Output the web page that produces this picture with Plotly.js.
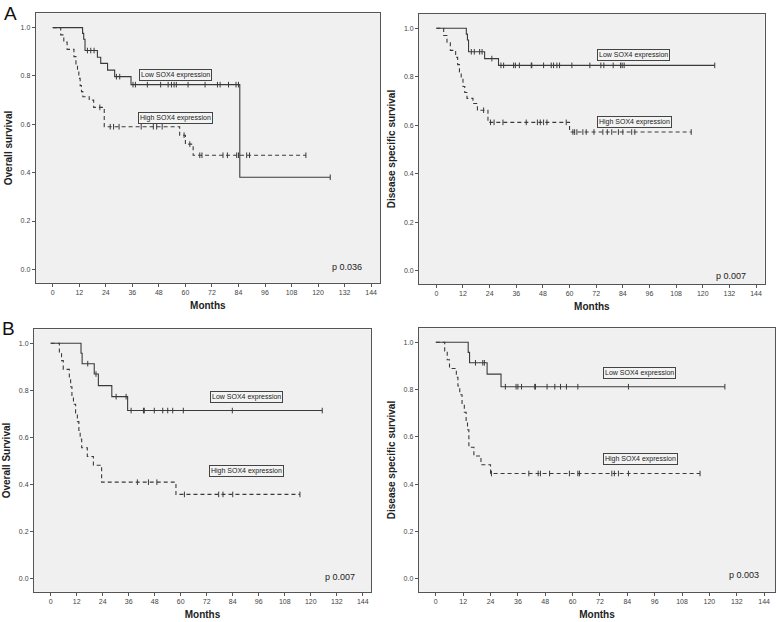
<!DOCTYPE html>
<html>
<head>
<meta charset="utf-8">
<script src="https://cdn.plot.ly/plotly-3.0.1.min.js"></script>
<style>
  html, body { margin: 0; padding: 0; background: #fff; }
  #plotArea { width: 778px; height: 622px; }
</style>
</head>
<body>
<div id="plotArea"></div>
<script>
// month ticks shared by all four panels
var monthTicks = [0, 12, 24, 36, 48, 60, 72, 84, 96, 108, 120, 132, 144];

// A - overall survival
var aOsLowT = [0, 13.5, 14, 14.6, 20.2, 21.7, 24.8, 28, 35.4, 84.6, 125.5];
var aOsLowS = [1, 0.976, 0.952, 0.905, 0.877, 0.852, 0.824, 0.797, 0.764, 0.381, 0.381];
var aOsLowC = [15.7, 17.2, 18.7, 28.8, 30.3, 36.3, 37.4, 42.8, 48.8, 52.2, 53.7, 54.9, 55.9, 61.2, 68.9, 74.5, 75.7, 79.5, 82.9, 84, 125.5];
var aOsHighT = [0, 3.6, 5, 6.5, 9.6, 10.5, 11.2, 11.8, 12.4, 13, 13.6, 16.5, 18.5, 23.3, 57.4, 60, 63.5, 114.5];
var aOsHighS = [1, 0.97, 0.94, 0.91, 0.88, 0.85, 0.82, 0.79, 0.76, 0.735, 0.714, 0.70, 0.67, 0.59, 0.555, 0.518, 0.472, 0.472];
var aOsHighC = [21.3, 26, 27.5, 30, 40, 45.5, 47, 49.5, 59.4, 62, 66.5, 67.5, 77, 79, 83.2, 84, 87.7, 89, 114.5];

// A - disease specific survival
var aDssLowT = [0, 13.5, 14, 14.5, 21.75, 28, 125.4];
var aDssLowS = [1, 0.976, 0.952, 0.903, 0.875, 0.847, 0.847];
var aDssLowC = [15.75, 17.1, 19.5, 20.6, 25, 29.1, 30.3, 34.8, 35.6, 37.4, 42.75, 43, 48.3, 51.75, 52.8, 54.3, 55.5, 61.05, 69.15, 74.1, 75.45, 79.65, 83, 83.7, 84.6, 125.4];
var aDssHighT = [0, 3.3, 4.8, 6.3, 8.7, 9.6, 10.4, 11.2, 12, 12.8, 13.8, 16.5, 18.5, 23.25, 60, 114.8];
var aDssHighS = [1, 0.97, 0.94, 0.909, 0.88, 0.85, 0.82, 0.79, 0.76, 0.735, 0.711, 0.69, 0.662, 0.612, 0.572, 0.572];
var aDssHighC = [21.3, 24.4, 26, 30, 40.5, 45.5, 46.8, 48.3, 49.8, 58.5, 61.5, 62.3, 63.3, 66, 67.5, 71, 75, 77, 79, 82, 84, 88, 89.4, 114.8];

// B - overall survival
var bOsLowT = [0, 14, 14.5, 20.1, 22, 28.2, 35.5, 125.3];
var bOsLowS = [1, 0.957, 0.913, 0.869, 0.82, 0.773, 0.714, 0.714];
var bOsLowC = [17.1, 20.9, 30.2, 34.8, 37.1, 42.8, 43.2, 47.8, 51.7, 54, 56.3, 61.2, 83.8, 125.3];
var bOsHighT = [0, 4, 5, 5.8, 8.6, 9.2, 9.8, 10.5, 11.5, 12.3, 13, 13.6, 14.3, 16.9, 19.7, 23.5, 57.8, 115];
var bOsHighS = [1, 0.963, 0.926, 0.889, 0.852, 0.815, 0.778, 0.741, 0.704, 0.667, 0.63, 0.593, 0.556, 0.519, 0.482, 0.41, 0.358, 0.358];
var bOsHighC = [40, 45.1, 49, 61.7, 77.5, 79.5, 84, 115];

// B - disease specific survival
var bDssLowT = [0, 14.2, 14.8, 22.5, 28.6, 126.8];
var bDssLowS = [1, 0.957, 0.913, 0.865, 0.812, 0.812];
var bDssLowC = [17.4, 20.6, 21.3, 30.5, 35.2, 36, 37.6, 43.4, 43.7, 48.8, 52.2, 54.7, 57.3, 62.3, 84.5, 126.8];
var bDssHighT = [0, 3.9, 5, 6, 9, 9.7, 10.5, 11.5, 12.5, 13.3, 13.9, 14.5, 16.7, 19.8, 24, 115.9];
var bDssHighS = [1, 0.963, 0.926, 0.889, 0.852, 0.815, 0.778, 0.741, 0.704, 0.667, 0.63, 0.556, 0.519, 0.482, 0.445, 0.445];
var bDssHighC = [24.4, 40.8, 44.9, 45.9, 49.9, 58.6, 62.3, 63, 77.2, 78.3, 80.1, 84.5, 115.9];

var ink = "#3a3a3a";

// survival value of a step curve at a given month
function survAt(ts, ss, m) {
    var v = ss[0];
    for (var i = 0; i < ts.length; i++) {
        if (ts[i] <= m) v = ss[i];
    }
    return v;
}

function curve(ts, ss, cs, dashed, xa, ya) {
    var line = {
        x: ts, y: ss, xaxis: xa, yaxis: ya,
        type: "scatter", mode: "lines",
        line: {shape: "hv", color: ink, width: 1.1, dash: dashed ? "4px,3px" : "solid"},
        hoverinfo: "skip", showlegend: false
    };
    var marks = {
        x: cs, y: cs.map(function (m) { return survAt(ts, ss, m); }),
        xaxis: xa, yaxis: ya,
        type: "scatter", mode: "markers",
        marker: {symbol: "line-ns-open", size: 4, color: ink, line: {color: ink, width: 1}},
        hoverinfo: "skip", showlegend: false
    };
    return [line, marks];
}

var data = [].concat(
    curve(aOsLowT, aOsLowS, aOsLowC, false, "x", "y"),
    curve(aOsHighT, aOsHighS, aOsHighC, true, "x", "y"),
    curve(aDssLowT, aDssLowS, aDssLowC, false, "x2", "y2"),
    curve(aDssHighT, aDssHighS, aDssHighC, true, "x2", "y2"),
    curve(bOsLowT, bOsLowS, bOsLowC, false, "x3", "y3"),
    curve(bOsHighT, bOsHighS, bOsHighC, true, "x3", "y3"),
    curve(bDssLowT, bDssLowS, bDssLowC, false, "x4", "y4"),
    curve(bDssHighT, bDssHighS, bDssHighC, true, "x4", "y4")
);

var tickFont = {family: "Liberation Sans, Arial, sans-serif", size: 7, color: "#444"};
var titleFont = {family: "Liberation Sans, Arial, sans-serif", size: 10, color: "#222", weight: "bold"};

function xAxis(dom, anchor, range) {
    return {
        domain: dom, anchor: anchor, range: range,
        tickvals: monthTicks, ticks: "outside", ticklen: 3, tickcolor: "#555",
        showline: true, mirror: true, linecolor: "#555", linewidth: 1,
        showgrid: false, zeroline: false, tickfont: tickFont,
        title: {text: "Months", font: titleFont, standoff: 6}
    };
}
function yAxis(dom, anchor, title) {
    return {
        domain: dom, anchor: anchor, range: [-0.055, 1.059],
        tickvals: [0, 0.2, 0.4, 0.6, 0.8, 1.0], tickformat: ".1f",
        ticks: "outside", ticklen: 3, tickcolor: "#555",
        showline: true, mirror: true, linecolor: "#555", linewidth: 1,
        showgrid: false, zeroline: false, tickfont: tickFont,
        title: {text: title, font: titleFont, standoff: 6}
    };
}

function tag(text, xref, yref, x, y) {
    return {
        text: text, xref: xref, yref: yref, x: x, y: y, showarrow: false,
        font: {family: "Liberation Sans, Arial, sans-serif", size: 7, color: "#222"},
        bordercolor: "#444", borderwidth: 1, borderpad: 1, bgcolor: "#f3f3f3"
    };
}
function pval(text, xref, yref, x, y) {
    return {
        text: text, xref: xref, yref: yref, x: x, y: y, showarrow: false,
        xanchor: "right", yanchor: "middle",
        font: {family: "Liberation Sans, Arial, sans-serif", size: 9, color: "#222"}
    };
}

var layout = {
    width: 778, height: 622,
    margin: {l: 0, r: 0, t: 0, b: 0},
    paper_bgcolor: "#fff", plot_bgcolor: "#f0f0f0",
    xaxis: xAxis([0.0459, 0.4884], "y", [-7.7, 148]),
    yaxis: yAxis([0.5455, 0.9786], "x", "Overall survival"),
    xaxis2: xAxis([0.5386, 0.9829], "y2", [-7.8, 147.9]),
    yaxis2: yAxis([0.5434, 0.9775], "x2", "Disease specific survival"),
    xaxis3: xAxis([0.0437, 0.4769], "y3", [-7.7, 147.8]),
    yaxis3: yAxis([0.0487, 0.4706], "x3", "Overall Survival"),
    xaxis4: xAxis([0.5382, 0.9965], "y4", [-7.5, 148.9]),
    yaxis4: yAxis([0.0487, 0.4722], "x4", "Disease specific survival"),
    annotations: [
        {text: "A", xref: "paper", yref: "paper", x: 0.002, y: 0.999, xanchor: "left", yanchor: "top",
         showarrow: false, font: {family: "Liberation Sans, Arial, sans-serif", size: 19, color: "#111"}},
        {text: "B", xref: "paper", yref: "paper", x: 0.0, y: 0.492, xanchor: "left", yanchor: "top",
         showarrow: false, font: {family: "Liberation Sans, Arial, sans-serif", size: 19, color: "#111"}},
        tag("Low SOX4 expression", "x", "y", 55.3, 0.805),
        tag("High SOX4 expression", "x", "y", 55.3, 0.625),
        pval("p 0.036", "x", "y", 140.9, 0.01),
        tag("Low SOX4 expression", "x2", "y2", 89, 0.888),
        tag("High SOX4 expression", "x2", "y2", 89.4, 0.612),
        pval("p 0.007", "x2", "y2", 140.3, -0.02),
        tag("Low SOX4 expression", "x3", "y3", 90.5, 0.771),
        tag("High SOX4 expression", "x3", "y3", 90.4, 0.457),
        pval("p 0.007", "x3", "y3", 141.2, 0.008),
        tag("Low SOX4 expression", "x4", "y4", 89.5, 0.872),
        tag("High SOX4 expression", "x4", "y4", 89.6, 0.508),
        pval("p 0.003", "x4", "y4", 142.5, 0.014)
    ]
};

Plotly.newPlot("plotArea", data, layout, {displayModeBar: false, staticPlot: true});
</script>
</body>
</html>
